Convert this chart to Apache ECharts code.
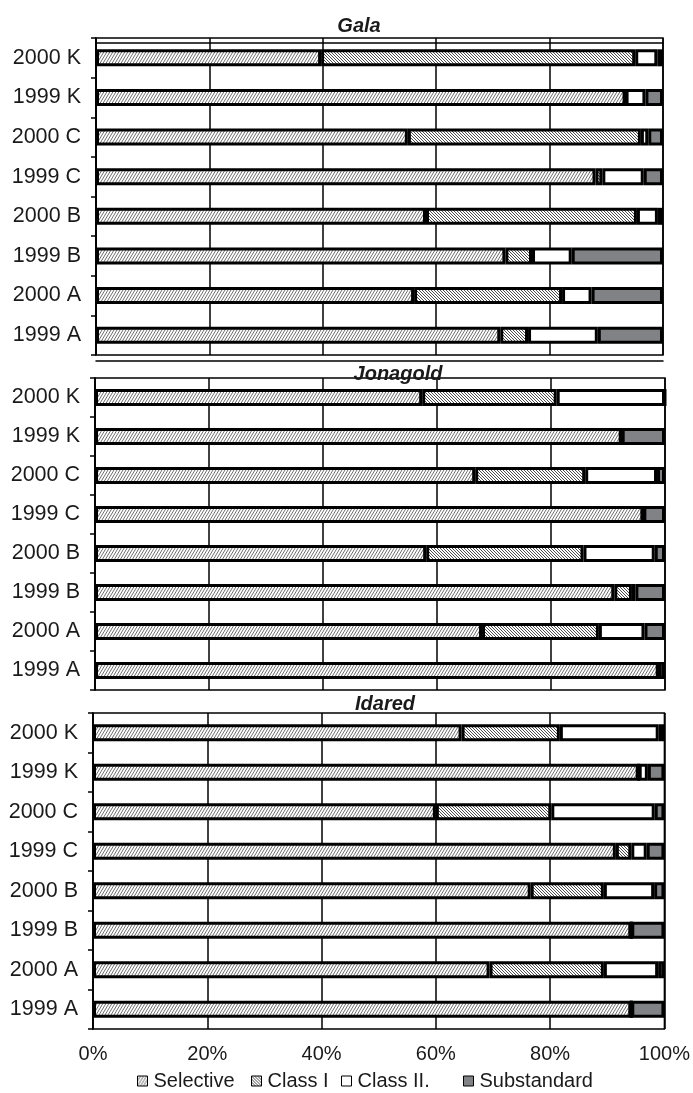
<!DOCTYPE html>
<html><head><meta charset="utf-8">
<script src="https://cdn.jsdelivr.net/npm/echarts@6/dist/echarts.min.js"></script>
<style>html,body{margin:0;padding:0;background:#fff}#c{width:693px;height:1093px}</style>
</head><body><div id="c"></div>
<script>
// categories listed bottom -> top
const categories = ['1999 A','2000 A','1999 B','2000 B','1999 C','2000 C','1999 K','2000 K'];
const varieties = ['Gala','Jonagold','Idared'];
const classNames = ['Selective','Class I','Class II.','Substandard'];
const xTicks = [0,20,40,60,80,100];

const galaSelective   = [71.3,56.1,72.2,58.2,88.1,55.0,93.4,39.7];
const galaClassI      = [4.9,26.1,4.7,37.2,1.2,41.1,0,55.4];
const galaClassII     = [12.3,5.2,7.0,3.7,7.3,1.3,3.5,3.9];
const galaSub         = [11.5,12.6,16.1,0.9,3.4,2.6,3.1,1.0];

const jonaSelective   = [98.9,67.9,91.1,58.1,96.2,66.7,92.4,57.4];
const jonaClassI      = [0,20.5,3.1,27.6,0,19.3,0,23.6];
const jonaClassII     = [0,8.0,0.6,12.5,0,12.6,0,19.0];
const jonaSub         = [1.1,3.6,5.2,1.8,3.8,1.4,7.6,0];

const idaSelective    = [94.2,69.4,94.2,76.6,91.5,60.0,95.5,64.5];
const idaClassI       = [0,20.0,0,12.8,2.7,20.2,0,17.2];
const idaClassII      = [0,9.5,0,8.8,2.7,18.1,1.6,17.3];
const idaSub          = [5.8,1.1,5.8,1.8,3.1,1.7,2.9,1.0];

const panelData = [
  [galaSelective, galaClassI, galaClassII, galaSub],
  [jonaSelective, jonaClassI, jonaClassII, jonaSub],
  [idaSelective, idaClassI, idaClassII, idaSub]
];

function hatch(dir, color, w, h, lw){
  const c = document.createElement('canvas'); c.width = w; c.height = h;
  const x = c.getContext('2d');
  x.fillStyle = '#fff'; x.fillRect(0,0,w,h);
  x.strokeStyle = color; x.lineWidth = lw;
  x.beginPath();
  for (let k = -1; k <= 1; k++) {
    if (dir > 0) { x.moveTo(k*w, h); x.lineTo(k*w + w, 0); }
    else { x.moveTo(k*w, 0); x.lineTo(k*w + w, h); }
  }
  x.stroke();
  return {image: c, repeat: 'repeat'};
}
const fills = [hatch(1,'#707070',3,5,1), hatch(-1,'#3a3a3a',3,3,0.9), '#ffffff', '#808285'];

const FONT = 'Liberation Sans, Arial, sans-serif';
const grids = [
  {left:96, right:30, top:38, height:317},
  {left:95, right:28, top:378, height:312},
  {left:93, right:28, top:713, height:316}
];
const titleTops = [11, 359, 689];
const titleX = [354, 393, 380];
const legendLefts = [137, 251, 341, 463];

const xAxes = [];
grids.forEach((g,i)=>{
  xAxes.push({
    type:'value', gridIndex:i, min:xTicks[0], max:xTicks[xTicks.length-1], interval:20,
    axisLine:{show:false}, axisTick:{show:false},
    splitLine:{show:true, lineStyle:{color:'#000', width:1.5}},
    axisLabel:{show:i===2, formatter:'{value}%', fontSize:20, color:'#1a1a1a', margin:15, fontFamily:FONT}
  });
});
// the Gala panel has a doubled frame line at top and bottom
xAxes.push({type:'value', gridIndex:0, position:'top', offset:-5, min:0, max:100,
  axisLine:{show:true, lineStyle:{color:'#000', width:1.5}}, axisTick:{show:false},
  axisLabel:{show:false}, splitLine:{show:false}});
xAxes.push({type:'value', gridIndex:0, position:'bottom', offset:6, min:0, max:100,
  axisLine:{show:true, lineStyle:{color:'#000', width:1.5}}, axisTick:{show:false},
  axisLabel:{show:false}, splitLine:{show:false}});

const option = {
  animation:false,
  backgroundColor:'#fff',
  textStyle:{fontFamily:FONT},
  title: varieties.map((v,i)=>({
    text:v, left:titleX[i], top:titleTops[i], textAlign:'center',
    textStyle:{fontSize:20, fontWeight:'bold', fontStyle:'italic', color:'#1a1a1a', fontFamily:FONT}
  })),
  legend: classNames.map((n,i)=>({
    data:[n], left:legendLefts[i], top:1071, padding:0,
    itemWidth:10, itemHeight:10, icon:'rect',
    textStyle:{fontSize:20, color:'#1a1a1a', padding:[0,0,0,1], fontFamily:FONT},
    itemStyle:{borderColor:'#000', borderWidth:1}
  })),
  grid: grids.map(g=>Object.assign({show:true, borderColor:'#000', borderWidth:1.5}, g)),
  xAxis: xAxes,
  yAxis: grids.map((g,i)=>({
    type:'category', gridIndex:i, data:categories,
    axisLine:{show:true, lineStyle:{color:'#000', width:1.5}},
    axisTick:{show:true, length:5, lineStyle:{color:'#000', width:1.5}},
    axisLabel:{fontSize:21.5, color:'#1a1a1a', margin:15, fontFamily:FONT}
  })),
  series: []
};
panelData.forEach((arrs,pi)=>{
  arrs.forEach((vals,ci)=>{
    option.series.push({
      type:'bar', name:classNames[ci], stack:'s'+pi,
      xAxisIndex:pi, yAxisIndex:pi, data:vals, barWidth:17,
      itemStyle:{color:fills[ci], borderColor:'#000', borderWidth:3},
      emphasis:{disabled:true}
    });
  });
});
const chart = echarts.init(document.getElementById('c'), null, {renderer:'canvas'});
chart.setOption(option);
</script></body></html>
